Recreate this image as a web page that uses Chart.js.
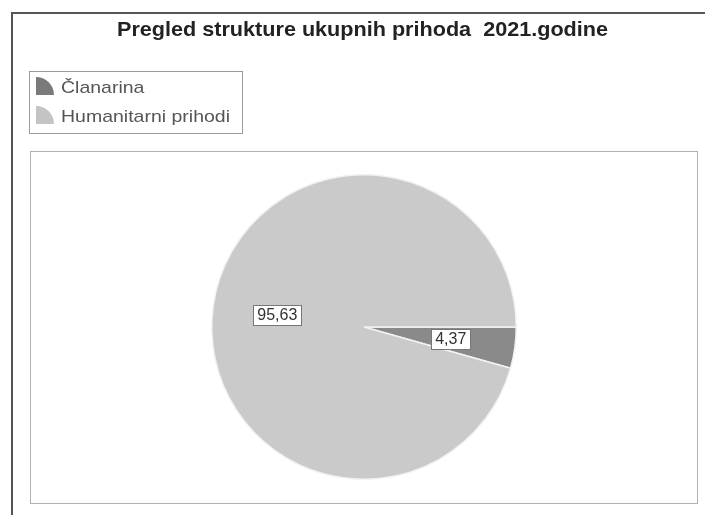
<!DOCTYPE html>
<html>
<head>
<meta charset="utf-8">
<script src="https://cdn.jsdelivr.net/npm/chart.js@4"></script>
<style>
  html, body { margin: 0; padding: 0; background: #fff; }
  #wrap { width: 705px; height: 515px; position: relative; }
</style>
</head>
<body>
<div id="wrap"><canvas id="chart" width="705" height="515"></canvas></div>
<script>
const titleText = "Pregled strukture ukupnih prihoda  2021.godine";
const categories = ["Članarina", "Humanitarni prihodi"];
const shares = [4.37, 95.63];
const shareLabels = ["4,37", "95,63"];
const sliceColors = ["#8a8a8a", "#cacaca"];
const iconColors = ["#7a7a7a", "#c4c4c4"];

// draw text squeezed/stretched to a given width (the scan is a bit wide)
function wideText(ctx, text, x, y, width) {
    const w = ctx.measureText(text).width;
    ctx.save();
    ctx.translate(x, y);
    ctx.scale(width / w, 1);
    ctx.fillText(text, 0, 0);
    ctx.restore();
}

// frames, title, legend box and value labels
const decor = {
    id: "decor",
    beforeDraw: function (chart) {
        const ctx = chart.ctx;
        ctx.save();
        // outer frame, only left and top are inside the picture
        ctx.strokeStyle = "#555";
        ctx.lineWidth = 2;
        ctx.beginPath();
        ctx.moveTo(12, 520);
        ctx.lineTo(12, 13);
        ctx.lineTo(710, 13);
        ctx.stroke();

        ctx.lineWidth = 1;
        ctx.strokeStyle = "#b0b0b0";
        ctx.strokeRect(30.5, 151.5, 667, 352);

        ctx.fillStyle = "#222";
        ctx.font = "bold 21px 'Liberation Sans', Arial, sans-serif";
        ctx.textAlign = "left";
        ctx.textBaseline = "alphabetic";
        wideText(ctx, titleText, 117, 36, 491);

        ctx.strokeStyle = "#9a9a9a";
        ctx.strokeRect(29.5, 71.5, 213, 62);
        ctx.font = "17px 'Liberation Sans', Arial, sans-serif";
        ctx.textBaseline = "middle";
        categories.forEach((c, i) => {
            const y = 87 + i * 29;
            ctx.fillStyle = iconColors[i];
            ctx.beginPath();
            ctx.moveTo(36, y + 8);
            ctx.arc(36, y + 8, 18, -Math.PI / 2, 0);
            ctx.closePath();
            ctx.fill();
            ctx.fillStyle = "#555";
            wideText(ctx, c, 61, y + 1, ctx.measureText(c).width * 169 / ctx.measureText(categories[1]).width);
        });
        ctx.restore();
    },
    afterDatasetsDraw: function (chart) {
        const ctx = chart.ctx;
        const meta = chart.getDatasetMeta(0);
        ctx.save();
        ctx.font = "16px 'Liberation Sans', Arial, sans-serif";
        ctx.textAlign = "center";
        ctx.textBaseline = "middle";
        meta.data.forEach((arc, i) => {
            const p = arc.getProps(["x", "y", "startAngle", "endAngle", "outerRadius"], true);
            const mid = (p.startAngle + p.endAngle) / 2;
            const r = p.outerRadius * 0.575;
            const x = p.x + Math.cos(mid) * r;
            const y = p.y + Math.sin(mid) * r;
            const w = Math.round(ctx.measureText(shareLabels[i]).width + 8);
            const bx = Math.round(x - w / 2) + 0.5;
            const by = Math.round(y - 10) + 0.5;
            ctx.fillStyle = "#fff";
            ctx.fillRect(bx, by, w, 20);
            ctx.strokeStyle = "#777";
            ctx.strokeRect(bx, by, w, 20);
            ctx.fillStyle = "#333";
            ctx.fillText(shareLabels[i], x, y + 1);
        });
        ctx.restore();
    }
};

new Chart(document.getElementById("chart"), {
    type: "pie",
    data: {
        labels: categories,
        datasets: [{
            data: shares,
            backgroundColor: sliceColors,
            borderColor: "#f2f2f2",
            borderWidth: 1.5
        }]
    },
    options: {
        responsive: false,
        animation: false,
        rotation: 90,
        layout: { padding: { top: 174, bottom: 35, left: 211, right: 188 } },
        plugins: {
            legend: { display: false },
            title: { display: false },
            tooltip: { enabled: false }
        }
    },
    plugins: [decor]
});
</script>
</body>
</html>
